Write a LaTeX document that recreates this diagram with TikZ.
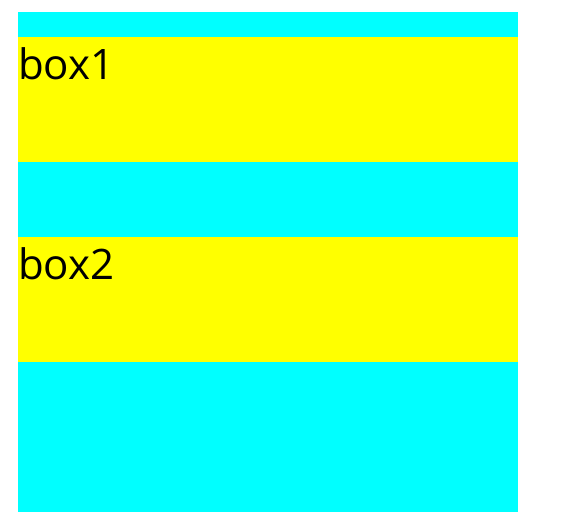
\documentclass[tikz,border=0pt]{standalone}
\usepackage{fontspec}
\setmainfont{Open Sans}
\definecolor{aquabg}{RGB}{0,255,255}
\definecolor{yellowbg}{RGB}{255,255,0}
\begin{document}
\begin{tikzpicture}[x=1pt,y=-1pt,
  lbl/.style={anchor=base west, inner sep=0pt, font=\fontsize{42}{50}\selectfont, text=black}]
\useasboundingbox (0,0) rectangle (567,523);
\fill[aquabg] (18,12) rectangle (518,512);
\fill[yellowbg] (18,37) rectangle (518,162);
\fill[yellowbg] (18,237) rectangle (518,362);
\node[lbl] (b1) at (18,79.3) {box1};
\node[lbl] (b2) at (18,279.3) {box2};
\end{tikzpicture}
\end{document}
